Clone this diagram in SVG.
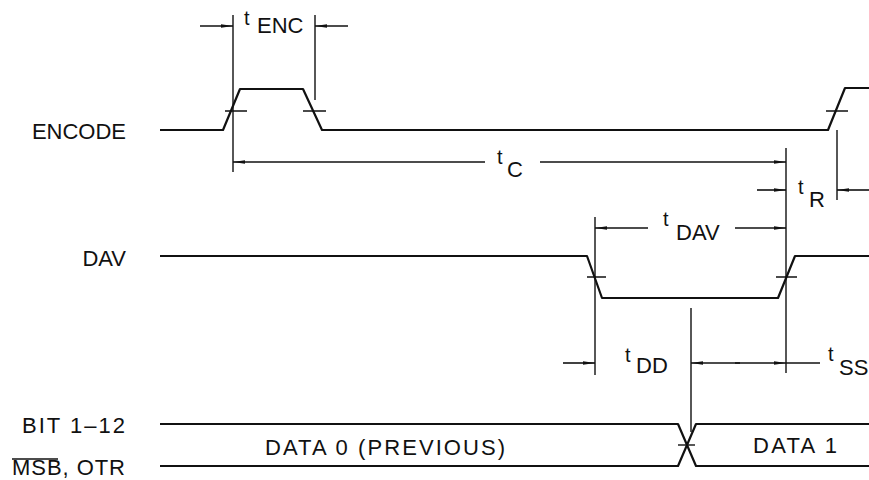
<svg xmlns="http://www.w3.org/2000/svg" width="869" height="480" viewBox="0 0 869 480">
<style>
.lbl{font-family:"Liberation Sans",Arial,sans-serif;font-size:22px;fill:#111}
.t{font-family:"Liberation Sans",Arial,sans-serif;font-size:20px;fill:#111}
.sig{fill:none;stroke:#111;stroke-width:2.2;stroke-linejoin:round}
.dim{fill:none;stroke:#111;stroke-width:1.6}
.ext{fill:none;stroke:#111;stroke-width:1.4}
</style>
<defs>
<marker id="ah" viewBox="0 0 12 6" refX="12" refY="3" markerWidth="12" markerHeight="6" markerUnits="userSpaceOnUse" orient="auto">
<path d="M0,1.2 L12,3 L0,4.8 Z" fill="#111"/>
</marker>
</defs>
<rect width="869" height="480" fill="#fff"/>

<g id="encode">
<text class="lbl" x="126" y="139" text-anchor="end">ENCODE</text>
<path class="sig" d="M160,130 L223,130 L240,89 L303,89 L322,130 L828,130 L845,88 L869,88"/>
<path class="ext" d="M225,111 H247 M303,111 H326 M826,111 H848"/>
</g>

<g id="dav">
<text class="lbl" x="126" y="266" text-anchor="end">DAV</text>
<path class="sig" d="M160,256 L587,256 L602,298 L778,298 L795,256 L869,256"/>
<path class="ext" d="M587,277 H606 M776,277 H797"/>
</g>

<g id="data">
<text class="lbl" x="125" y="433" text-anchor="end" textLength="103">BIT 1–12</text>
<text class="lbl" x="125" y="475" text-anchor="end" textLength="113">MSB, OTR</text>
<line x1="12" y1="459" x2="58" y2="459" stroke="#111" stroke-width="1.4"/>
<path class="sig" d="M160,424 L678,424 L687,445 L696,466 L869,466"/>
<path class="sig" d="M160,466 L678,466 L687,445 L696,424 L869,424"/>
<path class="ext" d="M678,445 H695"/>
<text class="lbl" x="265" y="455" textLength="240">DATA 0 (PREVIOUS)</text>
<text class="lbl" x="753" y="453" textLength="84">DATA 1</text>
</g>

<g id="connectors">
<path class="ext" d="M233,15 V172 M315,15 V100 M786,148 V373 M837,130 V200 M595,217 V375 M691,308 V432"/>
<line class="dim" x1="200" y1="26" x2="233" y2="26" marker-end="url(#ah)"/>
<line class="dim" x1="348" y1="26" x2="315" y2="26" marker-end="url(#ah)"/>
<line class="dim" x1="485" y1="162" x2="233" y2="162" marker-end="url(#ah)"/>
<line class="dim" x1="540" y1="162" x2="786" y2="162" marker-end="url(#ah)"/>
<line class="dim" x1="757" y1="190" x2="786" y2="190" marker-end="url(#ah)"/>
<line class="dim" x1="869" y1="190" x2="837" y2="190" marker-end="url(#ah)"/>
<line class="dim" x1="648" y1="228" x2="595" y2="228" marker-end="url(#ah)"/>
<line class="dim" x1="735" y1="228" x2="786" y2="228" marker-end="url(#ah)"/>
<line class="dim" x1="563" y1="363" x2="595" y2="363" marker-end="url(#ah)"/>
<line class="dim" x1="740" y1="363" x2="691" y2="363" marker-end="url(#ah)"/>
<line class="dim" x1="735" y1="363" x2="786" y2="363" marker-end="url(#ah)"/>
<line class="dim" x1="786" y1="363" x2="820" y2="363"/>
</g>

<g id="labels">
<text class="t" x="244" y="25">t</text><text class="lbl" x="257" y="33">ENC</text>
<text class="t" x="497" y="164">t</text><text class="lbl" x="507" y="177">C</text>
<text class="t" x="798" y="194">t</text><text class="lbl" x="809" y="207">R</text>
<text class="t" x="663" y="226">t</text><text class="lbl" x="676" y="240">DAV</text>
<text class="t" x="625" y="362">t</text><text class="lbl" x="636" y="373">DD</text>
<text class="t" x="828" y="361">t</text><text class="lbl" x="839" y="375">SS</text>
</g>
</svg>
